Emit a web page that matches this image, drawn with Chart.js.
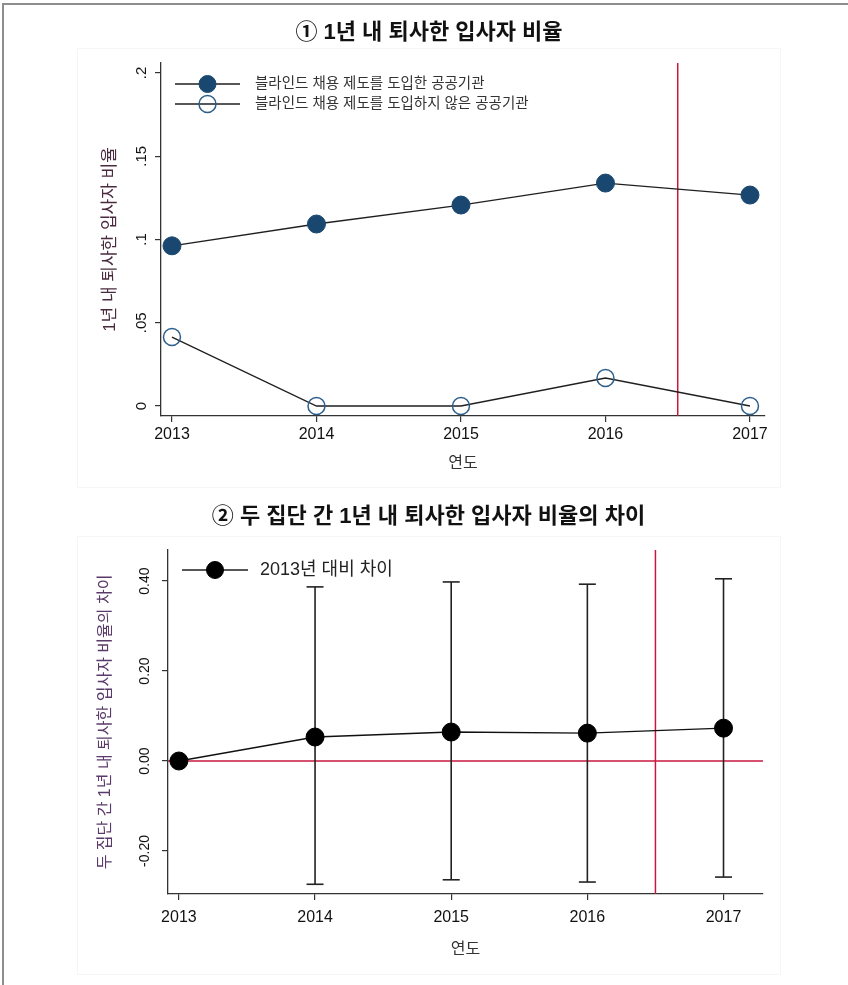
<!DOCTYPE html>
<html>
<head>
<meta charset="utf-8">
<script src="https://cdn.jsdelivr.net/npm/chart.js@4.4.1/dist/chart.umd.min.js"></script>
<style>
  body { margin: 0; background: #fff; }
  #page { position: relative; width: 848px; height: 985px; overflow: hidden; background: #fff; }
  .frame { position: absolute; left: 2px; top: 3px; width: 900px; height: 1000px; border-top: 2px solid #8e8e8e; border-left: 2px solid #8e8e8e; }
  .panel { position: absolute; border: 1px solid #f6f6f6; }
  canvas { position: absolute; left: 0; }
</style>
</head>
<body>
<div id="page">
  <div class="frame"></div>
  <div class="panel" style="left:77px;top:48px;width:702px;height:438px;"></div>
  <div class="panel" style="left:77px;top:536px;width:702px;height:437px;"></div>
  <canvas id="c1" width="848" height="490" style="top:0"></canvas>
  <canvas id="c2" width="848" height="495" style="top:490px"></canvas>
</div>
<script>
// values
const years = [2013, 2014, 2015, 2016, 2017];
const adoptedRate = [0.0962, 0.1093, 0.1207, 0.1339, 0.1267];
const notAdoptedRate = [0.0414, 0, 0, 0.0168, 0];
const diffVs2013 = [0, 0.0533, 0.0644, 0.0620, 0.0730];
const ciLow = [null, -0.274, -0.264, -0.269, -0.258];
const ciHigh = [null, 0.387, 0.398, 0.393, 0.405];
const cutYear = 2016.5;

const yTicks1 = [0, 0.05, 0.1, 0.15, 0.2];
const yTickLabels1 = ['0', '.05', '.1', '.15', '.2'];
const yTicks2 = [-0.2, 0, 0.2, 0.4];
const yTickLabels2 = ['-0.20', '0.00', '0.20', '0.40'];

const x1Range = [2012.924, 2017.104];
const y1Range = [-0.006, 0.206];
const x2Range = [2012.92, 2017.29];
const y2Range = [-0.2956, 0.469];

const FONT = "'Liberation Sans', 'Noto Sans CJK KR', sans-serif";
Chart.defaults.font.family = FONT;
Chart.defaults.animation = false;

const RED = '#c8173f';
const NAVY = '#1a476f';
const AXIS = '#333';

// legend drawn inside the plot: line with the marker in its middle, like Stata
const insideLegend = {
  id: 'insideLegend',
  afterDatasetsDraw(chart, args, opts) {
    if (!opts.display) return;
    const ctx = chart.ctx;
    const area = chart.chartArea;
    let row = 0;
    ctx.save();
    chart.data.datasets.forEach(ds => {
      if (!ds.label) return;
      const y = area.top + opts.y + row * opts.rowGap;
      const x0 = area.left + opts.x;
      ctx.strokeStyle = '#1f1f1f';
      ctx.lineWidth = 1.3;
      ctx.beginPath();
      ctx.moveTo(x0, y);
      ctx.lineTo(x0 + opts.lineLen, y);
      ctx.stroke();
      ctx.beginPath();
      ctx.arc(x0 + opts.lineLen / 2, y, opts.radius, 0, Math.PI * 2);
      ctx.fillStyle = ds.pointBackgroundColor;
      ctx.fill();
      ctx.strokeStyle = ds.pointBorderColor;
      ctx.lineWidth = ds.pointBorderWidth;
      ctx.stroke();
      ctx.fillStyle = opts.color;
      ctx.font = opts.font;
      ctx.textBaseline = 'middle';
      ctx.fillText(ds.label, x0 + opts.lineLen + opts.gap, y);
      row++;
    });
    ctx.restore();
  }
};

const axisBorder = { color: AXIS, width: 1.3 };
const axisGrid = { drawOnChartArea: false, drawTicks: true, tickLength: 6, color: AXIS, lineWidth: 1.2 };

// ---- chart 1 ----
new Chart(document.getElementById('c1'), {
  type: 'scatter',
  plugins: [insideLegend],
  data: {
    datasets: [
      {
        label: '블라인드 채용 제도를 도입한 공공기관',
        data: years.map((x, i) => ({ x, y: adoptedRate[i] })),
        showLine: true, borderColor: '#1f1f1f', borderWidth: 1.3,
        pointRadius: 9, pointBackgroundColor: NAVY, pointBorderColor: NAVY, pointBorderWidth: 1
      },
      {
        label: '블라인드 채용 제도를 도입하지 않은 공공기관',
        data: years.map((x, i) => ({ x, y: notAdoptedRate[i] })),
        showLine: true, borderColor: '#1f1f1f', borderWidth: 1.3,
        pointRadius: 8.5, pointBackgroundColor: 'rgba(0,0,0,0)', pointBorderColor: '#2d5f8b', pointBorderWidth: 1.5
      },
      {
        data: [{ x: cutYear, y: y1Range[0] }, { x: cutYear, y: y1Range[1] }],
        showLine: true, borderColor: RED, borderWidth: 1.5, pointRadius: 0
      }
    ]
  },
  options: {
    responsive: false,
    devicePixelRatio: 1,
    layout: { padding: { left: 93, right: 83, top: 0, bottom: 0 } },
    plugins: {
      legend: { display: false },
      tooltip: { enabled: false },
      title: {
        display: true, text: '① 1년 내 퇴사한 입사자 비율', color: '#111',
        font: { size: 22, weight: 'bold', family: FONT },
        padding: { top: 20, bottom: 16.6 }
      },
      insideLegend: { display: true, x: 14, y: 21, rowGap: 20, lineLen: 65, gap: 15, radius: 8.5, color: '#333', font: '14.5px ' + FONT }
    },
    scales: {
      x: {
        type: 'linear', min: x1Range[0], max: x1Range[1],
        afterFit: s => { s.height = 74; },
        afterBuildTicks: s => { s.ticks = years.map(v => ({ value: v })); },
        border: axisBorder, grid: axisGrid,
        ticks: { padding: 3, maxRotation: 0, autoSkip: false, color: '#111', font: { size: 16 }, callback: (v, i) => String(years[i]) },
        title: { display: true, text: '연도', color: '#333', font: { size: 16 }, padding: { top: 0, bottom: 16.4 } }
      },
      y: {
        type: 'linear', min: y1Range[0], max: y1Range[1],
        afterFit: s => { s.width = 68; },
        afterBuildTicks: s => { s.ticks = yTicks1.map(v => ({ value: v })); },
        border: axisBorder, grid: axisGrid,
        ticks: { minRotation: 90, maxRotation: 90, crossAlign: 'center', padding: 2.6, autoSkip: false, color: '#111', font: { size: 15 }, callback: (v, i) => yTickLabels1[i] },
        title: { display: true, text: '1년 내 퇴사한 입사자 비율', color: '#4a2a3f', font: { size: 17 }, padding: { top: 6.8, bottom: 0 } }
      }
    }
  }
});

// ---- chart 2 ----
const whiskerPts = [];
years.forEach((yr, i) => {
  if (ciLow[i] == null) return;
  whiskerPts.push({ x: yr, y: ciHigh[i] }, { x: yr, y: ciLow[i] }, { x: yr, y: null });
});

new Chart(document.getElementById('c2'), {
  type: 'scatter',
  plugins: [insideLegend],
  data: {
    datasets: [
      {
        label: '2013년 대비 차이',
        data: years.map((x, i) => ({ x, y: diffVs2013[i] })),
        showLine: true, borderColor: '#111', borderWidth: 1.4,
        pointRadius: 9, pointBackgroundColor: '#000', pointBorderColor: '#000', pointBorderWidth: 1
      },
      {
        data: whiskerPts,
        showLine: true, spanGaps: false, borderColor: '#222', borderWidth: 1.6,
        pointStyle: 'line', pointRadius: 8.5, pointBorderColor: '#222', pointBorderWidth: 1.6
      },
      {
        data: [{ x: x2Range[0], y: 0 }, { x: x2Range[1], y: 0 }],
        showLine: true, borderColor: RED, borderWidth: 1.3, pointRadius: 0
      },
      {
        data: [{ x: cutYear, y: y2Range[0] }, { x: cutYear, y: y2Range[1] }],
        showLine: true, borderColor: RED, borderWidth: 1.5, pointRadius: 0
      }
    ]
  },
  options: {
    responsive: false,
    devicePixelRatio: 1,
    layout: { padding: { left: 94, right: 85, top: 0, bottom: 0 } },
    plugins: {
      legend: { display: false },
      tooltip: { enabled: false },
      title: {
        display: true, text: '② 두 집단 간 1년 내 퇴사한 입사자 비율의 차이', color: '#111',
        font: { size: 22, weight: 'bold', family: FONT },
        padding: { top: 13.8, bottom: 19.8 }
      },
      insideLegend: { display: true, x: 14, y: 20, rowGap: 20, lineLen: 66, gap: 12, radius: 8.5, color: '#222', font: '18px ' + FONT }
    },
    scales: {
      x: {
        type: 'linear', min: x2Range[0], max: x2Range[1],
        afterFit: s => { s.height = 91; },
        afterBuildTicks: s => { s.ticks = years.map(v => ({ value: v })); },
        border: axisBorder, grid: axisGrid,
        ticks: { padding: 8, maxRotation: 0, autoSkip: false, color: '#111', font: { size: 16 }, callback: (v, i) => String(years[i]) },
        title: { display: true, text: '연도', color: '#333', font: { size: 16 }, padding: { top: 0, bottom: 25.4 } }
      },
      y: {
        type: 'linear', min: y2Range[0], max: y2Range[1],
        afterFit: s => { s.width = 74; },
        afterBuildTicks: s => { s.ticks = yTicks2.map(v => ({ value: v })); },
        border: axisBorder, grid: axisGrid,
        ticks: { minRotation: 90, maxRotation: 90, crossAlign: 'center', padding: 1, autoSkip: false, color: '#111', font: { size: 14 }, callback: (v, i) => yTickLabels2[i] },
        title: { display: true, text: '두 집단 간 1년 내 퇴사한 입사자 비율의 차이', color: '#5a3a6a', font: { size: 16 }, padding: { top: 1.5, bottom: 0 } }
      }
    }
  }
});
</script>
</body>
</html>
